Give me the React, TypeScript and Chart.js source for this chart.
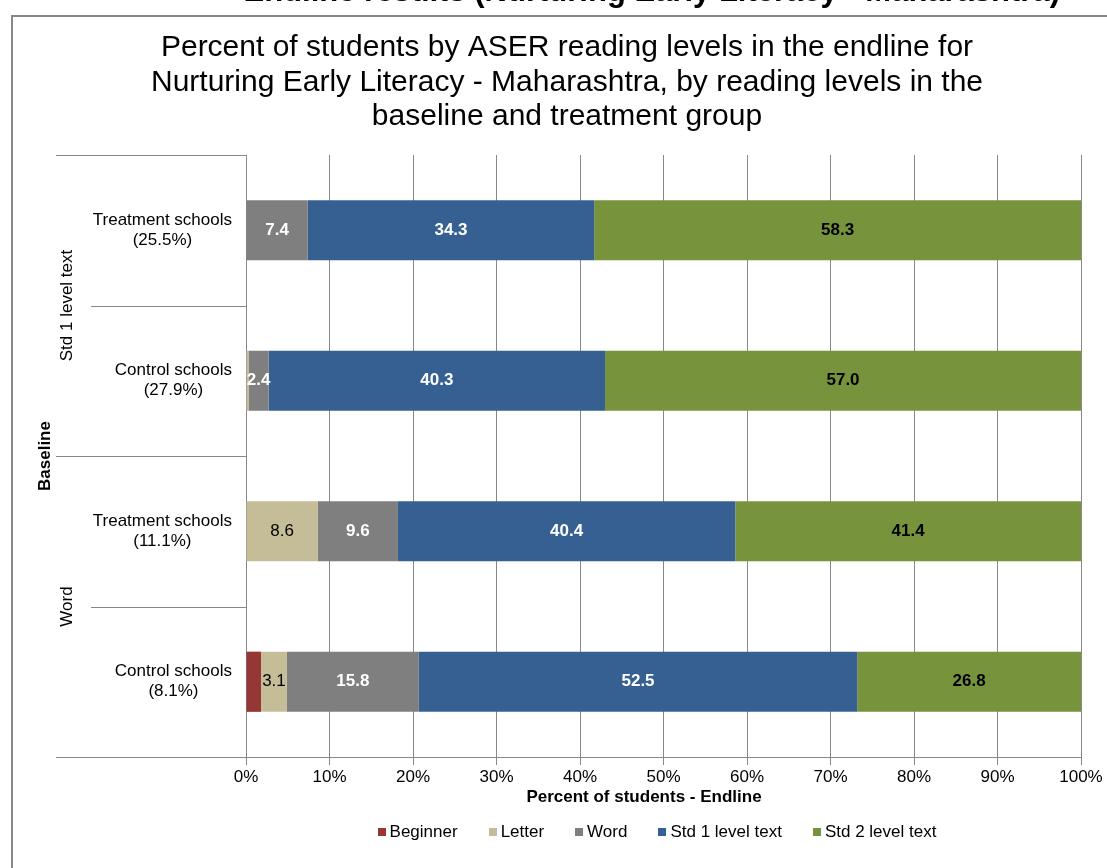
import React, { useEffect, useRef } from "react";
import { Chart, registerables } from "chart.js";

Chart.register(...registerables);

// ---- data -------------------------------------------------------------
const HEADING = "Endline results (Nurturing Early Literacy - Maharashtra)";
const TITLE_LINES = [
  "Percent of students by ASER reading levels in the endline for",
  "Nurturing Early Literacy - Maharashtra, by reading levels in the",
  "baseline and treatment group",
];
const BASELINE_GROUPS = ["Std 1 level text", "Word"];
const SCHOOL_GROUPS = ["Treatment schools", "Control schools", "Treatment schools", "Control schools"];
const SCHOOL_SHARES = ["(25.5%)", "(27.9%)", "(11.1%)", "(8.1%)"];
const LEVELS = ["Beginner", "Letter", "Word", "Std 1 level text", "Std 2 level text"];

const beginner = [0, 0, 0, 1.8];
const letter = [0, 0.3, 8.6, 3.1];
const word = [7.4, 2.4, 9.6, 15.8];
const std1Text = [34.3, 40.3, 40.4, 52.5];
const std2Text = [58.3, 57.0, 41.4, 26.8];

const X_TICKS = [0, 10, 20, 30, 40, 50, 60, 70, 80, 90, 100];
const X_TITLE = "Percent of students - Endline";
const Y_TITLE = "Baseline";

// ---- styles -----------------------------------------------------------
const FONT = '"Liberation Sans", Arial, Helvetica, sans-serif';
const COLORS = ["#953735", "#C4BD97", "#7F7F7F", "#376092", "#77933C"];
const LINE = "#888888";
// label style per series (null = no value labels)
const LABEL_STYLE: ({ color: string; bold: boolean } | null)[] = [
  null,
  { color: "#000000", bold: false },
  { color: "#ffffff", bold: true },
  { color: "#ffffff", bold: true },
  { color: "#000000", bold: true },
];

const SERIES = [beginner, letter, word, std1Text, std2Text];

const decorations = {
  id: "decorations",
  beforeDraw(chart: any) {
    const { ctx, width, height } = chart;
    ctx.save();
    ctx.fillStyle = "#ffffff";
    ctx.fillRect(0, 0, width, height);

    // page heading above the chart frame (mostly outside the view)
    ctx.fillStyle = "#000000";
    ctx.font = `bold 31px ${FONT}`;
    ctx.textAlign = "right";
    ctx.textBaseline = "alphabetic";
    ctx.fillText(HEADING, 1060, 1);

    // chart frame
    ctx.strokeStyle = LINE;
    ctx.lineWidth = 2;
    ctx.beginPath();
    ctx.moveTo(12, height);
    ctx.lineTo(12, 16);
    ctx.lineTo(width, 16);
    ctx.stroke();

    // title
    ctx.font = `30px ${FONT}`;
    ctx.textAlign = "center";
    ctx.textBaseline = "middle";
    const titleY = [48, 83, 117];
    TITLE_LINES.forEach((t, i) => ctx.fillText(t, 567, titleY[i]));
    ctx.restore();
  },
  afterDatasetsDraw(chart: any) {
    const { ctx } = chart;
    ctx.save();
    ctx.textAlign = "center";
    ctx.textBaseline = "middle";
    chart.data.datasets.forEach((ds: any, di: number) => {
      const style = LABEL_STYLE[di];
      if (!style) return;
      const meta = chart.getDatasetMeta(di);
      ctx.font = `${style.bold ? "bold " : ""}17px ${FONT}`;
      ctx.fillStyle = style.color;
      meta.data.forEach((el: any, j: number) => {
        const v = ds.data[j] as number;
        if (v < 1) return;
        const p = el.getProps(["x", "base", "y"], true);
        ctx.fillText(v.toFixed(1), (p.x + p.base) / 2, p.y);
      });
    });
    ctx.restore();
  },
  afterDraw(chart: any) {
    const { ctx, chartArea } = chart;
    const { left, top, bottom } = chartArea;
    const n = SCHOOL_GROUPS.length;
    const h = (bottom - top) / n;
    ctx.save();

    // category separators on the left
    ctx.strokeStyle = LINE;
    ctx.lineWidth = 1;
    for (let k = 0; k <= n; k++) {
      const y = Math.round(top + k * h) + 0.5;
      ctx.beginPath();
      ctx.moveTo(k % 2 === 0 ? 56 : 91, y);
      ctx.lineTo(left, y);
      ctx.stroke();
    }

    // school labels
    ctx.fillStyle = "#000000";
    ctx.font = `17px ${FONT}`;
    ctx.textAlign = "center";
    ctx.textBaseline = "middle";
    const yScale = chart.scales.y;
    SCHOOL_GROUPS.forEach((s, i) => {
      const yc = yScale.getPixelForValue(i);
      const w = Math.max(ctx.measureText(s).width, ctx.measureText(SCHOOL_SHARES[i]).width);
      const xc = left - 14 - w / 2;
      ctx.fillText(s, xc, yc - 10);
      ctx.fillText(SCHOOL_SHARES[i], xc, yc + 10);
    });

    // baseline group labels (rotated)
    BASELINE_GROUPS.forEach((g, gi) => {
      const yc = top + (gi * 2 + 1) * h;
      ctx.save();
      ctx.translate(67.5, yc);
      ctx.rotate(-Math.PI / 2);
      ctx.fillText(g, 0, 0);
      ctx.restore();
    });

    // y title
    ctx.font = `bold 17px ${FONT}`;
    ctx.save();
    ctx.translate(45, (top + bottom) / 2);
    ctx.rotate(-Math.PI / 2);
    ctx.fillText(Y_TITLE, 0, 0);
    ctx.restore();

    // x title
    ctx.fillText(X_TITLE, 644, 797);

    // legend
    ctx.font = `17px ${FONT}`;
    const widths = LEVELS.map((t) => ctx.measureText(t).width);
    const total = widths.reduce((a, w) => a + 12 + w, 0) + 31 * (LEVELS.length - 1);
    let lx = 657 - total / 2;
    const ly = 832;
    ctx.textAlign = "left";
    LEVELS.forEach((t, i) => {
      ctx.fillStyle = COLORS[i];
      ctx.fillRect(Math.round(lx), ly - 4, 8, 8);
      ctx.fillStyle = "#000000";
      ctx.fillText(t, lx + 12, ly);
      lx += 12 + widths[i] + 31;
    });
    ctx.restore();
  },
};

export default function App() {
  const ref = useRef<HTMLCanvasElement>(null);

  useEffect(() => {
    const canvas = ref.current;
    if (!canvas) return;
    const chart = new Chart(canvas, {
      type: "bar",
      data: {
        labels: SCHOOL_GROUPS.map((s, i) => `${s} ${SCHOOL_SHARES[i]}`),
        datasets: SERIES.map((data, i) => ({
          label: LEVELS[i],
          data,
          backgroundColor: COLORS[i],
          borderWidth: 0,
          barPercentage: 0.4,
          categoryPercentage: 1,
        })),
      },
      options: {
        indexAxis: "y",
        responsive: false,
        animation: false,
        events: [],
        layout: { padding: { left: 246, right: 26, top: 155, bottom: 79 } },
        plugins: {
          legend: { display: false },
          title: { display: false },
          tooltip: { enabled: false },
        },
        scales: {
          x: {
            stacked: true,
            min: 0,
            max: 100,
            afterBuildTicks: (s: any) => {
              s.ticks = X_TICKS.map((v) => ({ value: v }));
            },
            afterFit: (s: any) => {
              s.height = 32;
            },
            grid: { color: LINE, lineWidth: 1, tickLength: 8, drawTicks: true },
            border: { display: true, color: LINE, width: 1 },
            ticks: {
              font: { family: FONT, size: 17 },
              color: "#000000",
              padding: 2,
              maxRotation: 0,
              autoSkip: false,
              callback: (v: any) => `${v}%`,
            },
          },
          y: { stacked: true, display: false },
        },
      },
      plugins: [decorations],
    } as any);
    return () => chart.destroy();
  }, []);

  return (
    <div style={{ position: "absolute", left: 0, top: 0, width: 1107, height: 868, background: "#fff" }}>
      <canvas ref={ref} width={1107} height={868} style={{ display: "block" }} />
    </div>
  );
}
